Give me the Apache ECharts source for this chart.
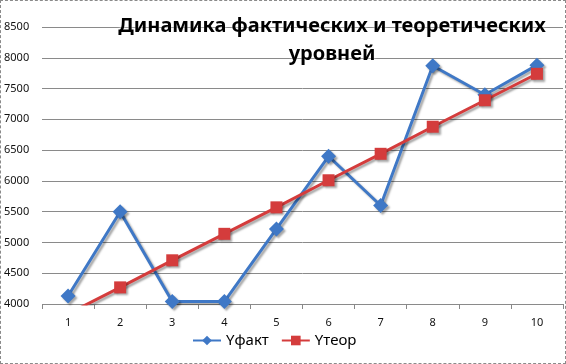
<!DOCTYPE html>
<html>
<head>
<meta charset="utf-8">
<script src="https://cdn.jsdelivr.net/npm/echarts@6/dist/echarts.min.js"></script>
<style>
html,body{margin:0;padding:0;background:#fff;}
#c{width:566px;height:364px;box-sizing:border-box;border:1px dashed #8a8a8a;}
</style>
</head>
<body>
<div id="c"></div>
<script>
const categories = ['1','2','3','4','5','6','7','8','9','10'];
const yFact = [4130, 5500, 4040, 4040, 5220, 6400, 5600, 7870, 7400, 7880];
const yTeor = [3840, 4270, 4710, 5140, 5570, 6010, 6440, 6880, 7310, 7740];
const yMin = 4000, yMax = 8500, yStep = 500;

const chart = echarts.init(document.getElementById('c'));
const shadow = {shadowColor:'rgba(0,0,0,0.35)', shadowOffsetX:2, shadowOffsetY:2, shadowBlur:2};
chart.setOption({
  animation:false,
  title:{
    text:'Динамика фактических и теоретических\nуровней',
    left:326, top:6, textAlign:'center',
    textStyle:{fontFamily:'Noto Sans', fontWeight:'bold', fontSize:20, lineHeight:28, color:'#000',
      textShadowColor:'rgba(255,255,255,0.9)', textShadowBlur:3}
  },
  grid:{left:41, right:2, top:26, bottom:59, containLabel:false},
  legend:{
    bottom:10, left:186, itemWidth:28, itemHeight:12, itemGap:12,
    textStyle:{fontFamily:'Noto Sans', fontSize:15, color:'#000'},
    data:['Yфакт','Yтеор']
  },
  xAxis:{
    type:'category', data:categories, boundaryGap:true,
    axisLine:{show:false},
    axisTick:{show:true, length:5, lineStyle:{color:'#888'}},
    axisLabel:{fontFamily:'Noto Sans', fontSize:11, color:'#111', margin:13}
  },
  yAxis:{
    type:'value', min:yMin, max:yMax, interval:yStep,
    axisLine:{show:false}, axisTick:{show:false},
    axisLabel:{fontFamily:'Noto Sans', fontSize:11, color:'#111', align:'left', margin:38,
      formatter:function(v){return String(v);}},
    splitLine:{lineStyle:{color:'#8a8a8a', width:1}}
  },
  series:[
    {name:'Yфакт', type:'line', data:yFact, symbol:'diamond', symbolSize:15,
     lineStyle:Object.assign({color:'#3f78c6', width:3}, shadow),
     itemStyle:Object.assign({color:'#3f78c6'}, shadow), z:3},
    {name:'Yтеор', type:'line', data:yTeor, symbol:'rect', symbolSize:12,
     lineStyle:Object.assign({color:'#d43c3c', width:3}, shadow),
     itemStyle:Object.assign({color:'#d43c3c'}, shadow), z:4}
  ]
});
</script>
</body>
</html>
